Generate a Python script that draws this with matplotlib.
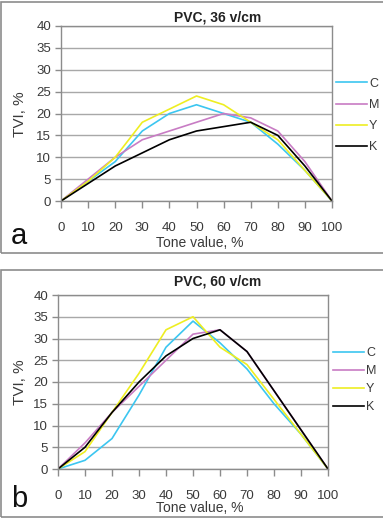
import numpy as np
import matplotlib
matplotlib.use('Agg')
import matplotlib.pyplot as plt
from matplotlib.patches import Rectangle

plt.rcParams['font.family'] = ['Liberation Sans', 'DejaVu Sans']

# ---------------- data ----------------
tone = [0, 10, 20, 30, 40, 50, 60, 70, 80, 90, 100]
series_names = ['C', 'M', 'Y', 'K']
series_colors = ['#3cc6f0', '#c87cc4', '#eeee22', '#000000']

# panel a : PVC, 36 v/cm
c_36 = [0, 4.5, 9, 16, 20, 22, 20, 18, 13, 7, 0]
m_36 = [0, 5, 10, 14, 16, 18, 20, 19, 16, 9, 0]
y_36 = [0, 4.5, 10, 18, 21, 24, 22, 18, 14, 7, 0]
k_36 = [0, 4, 8, 11, 14, 16, 17, 18, 15, 8, 0]

# panel b : PVC, 60 v/cm
c_60 = [0, 2, 7, 17, 28, 34, 29, 23, 15, 8, 0]
m_60 = [0, 6, 13, 19, 25, 31, 32, 27, 18, 9, 0]
y_60 = [0, 4, 13, 22, 32, 35, 28, 24, 16, 8, 0]
k_60 = [0, 5, 13, 20, 26, 30, 32, 27, 18, 9, 0]

W, H = 383, 519
fig = plt.figure(figsize=(W / 100, H / 100), dpi=100)
fig.patch.set_facecolor('white')
TXT = '#3a3a3a'


def px_axes(x0, x1, ytop, ybot):
    return fig.add_axes([x0 / W, (H - ybot) / H, (x1 - x0) / W, (ybot - ytop) / H])


def draw_panel(ax, data, title, letter, title_y, letter_y, xlabel_y, ylabel_y,
               leg_x, leg_y, leg_space):
    for vals, name, col in zip(data, series_names, series_colors):
        ax.plot(tone, vals, color=col, lw=1.2, label=name)
    ax.set_xlim(0, 100)
    ax.set_ylim(0, 40)
    ax.set_xticks(tone)
    ax.set_yticks(range(0, 41, 5))
    ax.yaxis.grid(True, color='#a8a8a8', lw=1)
    ax.set_axisbelow(True)
    for s in ax.spines.values():
        s.set_color('#8c8c8c')
        s.set_linewidth(1)
    ax.tick_params(axis='x', direction='out', length=5, width=1, color='#8c8c8c',
                   pad=10, labelsize=9.5, labelcolor=TXT)
    ax.tick_params(axis='y', direction='out', length=4, width=1, color='#8c8c8c',
                   pad=3, labelsize=9.5, labelcolor=TXT)
    leg = ax.legend(loc='center left', bbox_to_anchor=(leg_x / W, 1 - leg_y / H),
                    bbox_transform=fig.transFigure, frameon=False,
                    fontsize=9, handlelength=2.5, handletextpad=0.15,
                    labelspacing=leg_space, borderaxespad=0, borderpad=0)
    for t in leg.get_texts():
        t.set_color(TXT)
    fig.text(218 / W, 1 - title_y / H, title, ha='center', va='center',
             fontsize=10, fontweight='bold', color='#222222')
    fig.text(200 / W, 1 - xlabel_y / H, 'Tone value, %', ha='center', va='center',
             fontsize=10, color=TXT)
    fig.text(20 / W, 1 - ylabel_y / H, 'TVI, %', ha='center', va='center',
             rotation=90, fontsize=11, color=TXT)
    fig.text(11 / W, 1 - letter_y / H, letter, ha='left', va='center',
             fontsize=21, color='#111111')


# panel borders
fig.patches.append(Rectangle((1.5 / W, 1 - 253 / H), 390 / W, 251 / H, transform=fig.transFigure,
                             fill=False, edgecolor='#8c8c8c', lw=1.2))
fig.patches.append(Rectangle((1.5 / W, 1 - 517 / H), 390 / W, 247 / H, transform=fig.transFigure,
                             fill=False, edgecolor='#8c8c8c', lw=1.2))

ax1 = px_axes(61, 332, 26, 201)
draw_panel(ax1, [c_36, m_36, y_36, k_36], 'PVC, 36 v/cm', 'a',
           17, 236, 243, 114, 336, 115.5, 0.74)

ax2 = px_axes(58, 328, 295, 469)
draw_panel(ax2, [c_60, m_60, y_60, k_60], 'PVC, 60 v/cm', 'b',
           282, 499, 508, 382, 333, 380.5, 0.48)

fig.savefig('out.png', dpi=100)
